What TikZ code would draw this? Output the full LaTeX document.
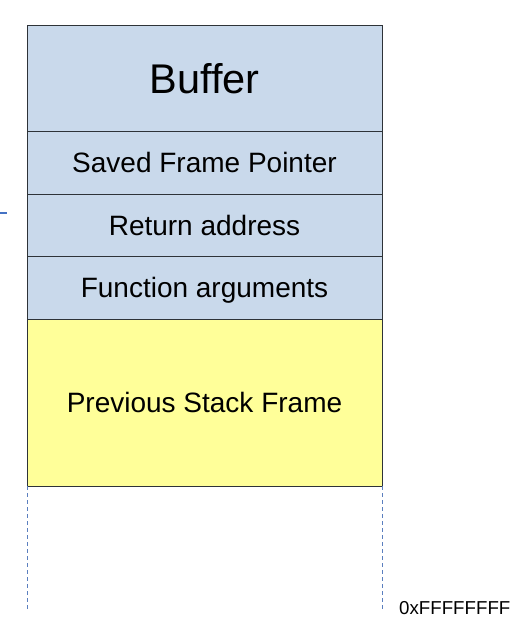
\documentclass[tikz,border=0pt]{standalone}
\usepackage{fontspec}
\setmainfont{Liberation Sans}
\definecolor{cellblue}{HTML}{C9D9EB}
\definecolor{cellyellow}{HTML}{FFFF99}
\definecolor{cellline}{HTML}{2E3338}
\definecolor{guide}{HTML}{5B7FBF}
\definecolor{marker}{HTML}{4472C4}
\begin{document}
\begin{tikzpicture}[x=1pt,y=-1pt,
  cell/.style={draw=cellline, line width=1pt, minimum width=355pt,
    inner sep=0pt, outer sep=0pt, text depth=0pt, text=black,
    font=\fontsize{28}{32}\selectfont},
  stackcell/.style={cell, fill=cellblue},
  oldframe/.style={cell, fill=cellyellow},
  guideline/.style={draw=guide, line width=0.9pt, dash pattern=on 4pt off 3pt}]
\useasboundingbox (0,0) rectangle (523,634);
% stack cells, lowest address at the top
\node[stackcell, minimum height=105pt, font=\fontsize{41.5}{46}\selectfont] (buf) at (204.5,78.5) {Buffer};
\node[stackcell, minimum height=63pt] (sfp) at (204.5,162.5) {Saved Frame Pointer};
\node[stackcell, minimum height=62pt] (ret) at (204.5,225) {Return address};
\node[stackcell, minimum height=63pt] (args) at (204.5,287.5) {Function arguments};
\node[oldframe, minimum height=167pt] (prev) at (204.5,402.5) {Previous Stack Frame};
% continuation towards the top of memory
\coordinate (lend) at (27,611);
\coordinate (rend) at (382,611);
\draw[guideline] (prev.south west) -- (lend);
\draw[guideline] (prev.south east) -- (rend);
\node[font=\fontsize{18.7}{21}\selectfont, inner sep=0pt, anchor=base west] (top) at (399,614) {0xFFFFFFFF};
% stack pointer mark
\coordinate (spa) at (0,213);
\coordinate (spb) at (7,213);
\draw[draw=marker, line width=1.3pt] (spa) -- (spb);
\end{tikzpicture}
\end{document}
